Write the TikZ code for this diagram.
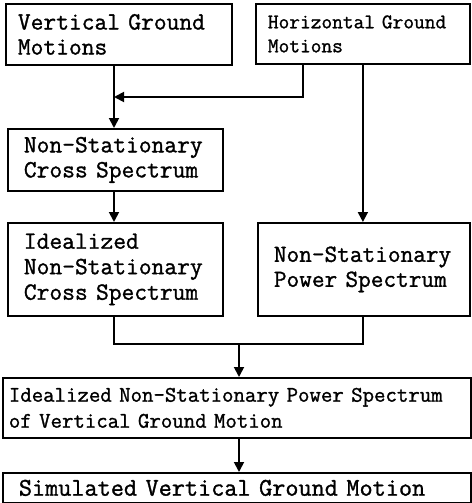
\documentclass[tikz,border=0pt]{standalone}
\usepackage{fontspec}
\newfontfamily\reffont{Latin Modern Mono}[FakeBold=1.2]
\usetikzlibrary{arrows.meta}
\tikzset{
  box/.style={draw, line width=1.8pt, anchor=north west, align=left, inner ysep=0pt},
  link/.style={line width=1.8pt},
  arr/.style={link, -{Triangle[length=10pt,width=10pt]}},
}
\begin{document}
\begin{tikzpicture}[x=1pt,y=-1pt]
\useasboundingbox (0,0) rectangle (471,503);
\node[box, inner xsep=12pt, text width=202pt, minimum height=61pt,
  font=\reffont\fontsize{24.8}{25}\selectfont] (vgm) at (5,3) {Vertical Ground\\Motions};
\node[box, inner xsep=12pt, text width=190pt, minimum height=60pt,
  font=\reffont\fontsize{20.8}{24}\selectfont] (hgm) at (255,3) {Horizontal Ground\\Motions};
\node[box, inner xsep=16pt, text width=183pt, minimum height=62pt,
  font=\reffont\fontsize{24.8}{25}\selectfont] (nsc) at (7,128) {Non-Stationary\\Cross Spectrum};
\node[box, inner xsep=16pt, text width=183pt, minimum height=93pt,
  font=\reffont\fontsize{24.8}{25.5}\selectfont] (insc) at (7,222) {Idealized\\Non-Stationary\\Cross Spectrum};
\node[box, inner xsep=16pt, text width=180pt, minimum height=93pt,
  font=\reffont\fontsize{24.6}{25}\selectfont] (nsp) at (257,222) {Non-Stationary\\Power Spectrum};
\node[box, inner xsep=6pt, text width=456pt, minimum height=60pt,
  font=\reffont\fontsize{22.2}{26}\selectfont] (insp) at (2,377) {Idealized Non-Stationary Power Spectrum\\of Vertical Ground Motion};
\node[box, inner xsep=16pt, text width=436pt, minimum height=30pt,
  font=\reffont\fontsize{25.5}{26}\selectfont] (svgm) at (2,472) {Simulated Vertical Ground Motion};
\coordinate (j1) at (114,97);
\coordinate (m) at (239,344);
\draw[arr] (j1 |- vgm.south) -- (j1 |- nsc.north);
\draw[arr] ([xshift=-60pt]hgm.south) |- (j1);
\draw[arr] (hgm.south) -- (hgm.south |- nsp.north);
\draw[arr] (j1 |- nsc.south) -- (j1 |- insc.north);
\draw[link] (j1 |- insc.south) -- (j1 |- m) -- (hgm.south |- m) -- (hgm.south |- nsp.south);
\draw[arr] (m) -- (m |- insp.north);
\draw[arr] (m |- insp.south) -- (m |- svgm.north);
\end{tikzpicture}
\end{document}
